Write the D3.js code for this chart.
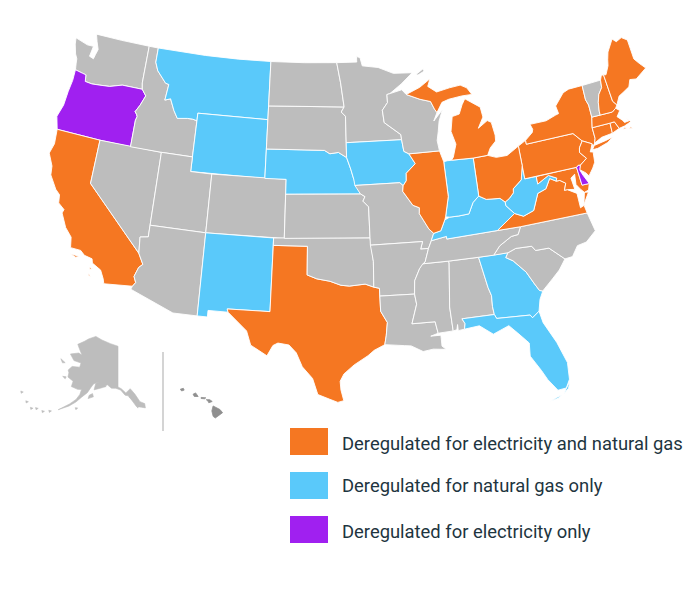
<![CDATA[<!DOCTYPE html>
<html><head><meta charset="utf-8">
<script src="https://cdn.jsdelivr.net/npm/d3@7"></script>
<style>html,body{margin:0;padding:0;background:#fff}svg{display:block}</style>
</head><body><svg id="c" width="700" height="601"></svg>
<script>
// Legend categories and which states belong to each
const legendLabels = ["Deregulated for electricity and natural gas","Deregulated for natural gas only","Deregulated for electricity only"];
const categoryColors = ["#F57722","#5AC9FA","#A020F0"];
const bothStates = ["TX","CA","IL","MI","OH","PA","NY","NJ","MD","VA","ME","NH","MA","CT","RI"];
const gasStates = ["MT","WY","NE","IA","NM","IN","KY","WV","GA","FL"];
const electricStates = ["OR","DE"];

// State outlines, [longitude, latitude]
const WA=[[[-124.73,48.38],[-123.4,48.12],[-122.75,48.13],[-122.9,47.4],[-122.45,47.3],[-122.35,47.6],[-122.2,48],[-122.5,48.5],[-122.75,49],[-120,49],[-117.03,49],[-117.04,46.43],[-116.92,46],[-118.98,46],[-119.3,45.93],[-120.2,45.72],[-121.2,45.65],[-122,45.6],[-122.7,45.65],[-122.8,46.1],[-123.2,46.15],[-123.95,46.25],[-124.05,46.7],[-124.1,47],[-124.35,47.3],[-124.65,47.95]]];
const OR=[[[-123.95,46.25],[-123.2,46.15],[-122.8,46.1],[-122.7,45.65],[-122,45.6],[-121.2,45.65],[-120.2,45.72],[-119.3,45.93],[-118.98,46],[-116.92,46],[-116.46,45.6],[-116.85,44.9],[-117.22,44.4],[-117.03,44.25],[-116.93,44.1],[-117.03,43.83],[-117.03,42],[-120,42],[-124.2,42],[-124.55,42.85],[-124.2,43.7],[-124.1,44.7],[-123.95,45.5]]];
const CA=[[[-124.2,42],[-120,42],[-120,39],[-114.63,35],[-114.14,34.3],[-114.45,34.05],[-114.72,33.4],[-114.5,33],[-114.72,32.72],[-117.12,32.53],[-117.25,32.85],[-117.6,33.4],[-118.4,33.75],[-118.5,34.03],[-119.2,34.15],[-119.6,34.42],[-120.5,34.45],[-120.65,35.15],[-121.3,35.7],[-121.9,36.6],[-121.8,36.85],[-122.4,37.2],[-122.5,37.75],[-122.95,38.05],[-123.7,38.9],[-123.8,39.5],[-124.35,40.3],[-124.1,41]],[[-120.4,34.05],[-119.6,34],[-119.9,33.9]],[[-118.6,33.45],[-118.3,33.35],[-118.5,33.3]],[[-118.6,33.05],[-118.35,32.85],[-118.5,32.85]]];
const NV=[[[-120,42],[-114.04,42],[-114.04,36.2],[-114.75,36.1],[-114.63,35],[-120,39]]];
const ID=[[[-117.03,49],[-116.05,49],[-116.05,48],[-115.7,47.45],[-114.7,46.7],[-114.35,46.65],[-114.5,45.55],[-113.95,45.7],[-113.45,44.95],[-113,44.45],[-112,44.55],[-111.5,44.55],[-111.05,44.48],[-111.05,42],[-114.04,42],[-117.03,42],[-117.03,43.83],[-116.93,44.1],[-117.03,44.25],[-117.22,44.4],[-116.85,44.9],[-116.46,45.6],[-116.92,46],[-117.04,46.43]]];
const MT=[[[-116.05,49],[-111,49],[-107.5,49],[-104.05,49],[-104.05,45],[-111.05,45],[-111.05,44.48],[-111.5,44.55],[-112,44.55],[-113,44.45],[-113.45,44.95],[-113.95,45.7],[-114.5,45.55],[-114.35,46.65],[-114.7,46.7],[-115.7,47.45],[-116.05,48]]];
const WY=[[[-111.05,45],[-104.05,45],[-104.05,41],[-111.05,41]]];
const UT=[[[-114.04,42],[-111.05,42],[-111.05,41],[-109.05,41],[-109.05,37],[-114.04,37]]];
const CO=[[[-109.05,41],[-102.05,41],[-102.05,37],[-109.05,37]]];
const AZ=[[[-114.75,36.1],[-114.04,36.2],[-114.04,37],[-109.05,37],[-109.05,31.33],[-111.07,31.33],[-114.82,32.5],[-114.72,32.72],[-114.5,33],[-114.72,33.4],[-114.45,34.05],[-114.14,34.3],[-114.63,35]]];
const NM=[[[-109.05,37],[-103,37],[-103.05,32],[-106.62,32],[-106.53,31.78],[-108.2,31.78],[-108.2,31.33],[-109.05,31.33]]];
const TX=[[[-103,36.5],[-100,36.5],[-100,34.56],[-99.2,34.3],[-98.1,34.13],[-97.2,33.85],[-96.5,33.78],[-95.2,33.88],[-94.5,33.65],[-94.04,33.55],[-94.04,33.02],[-94.04,31.99],[-93.55,31.2],[-93.7,30.3],[-93.85,29.7],[-94.7,29.35],[-95.2,29],[-96.3,28.4],[-97.1,27.8],[-97.4,27.3],[-97.35,26.7],[-97.15,25.96],[-97.6,25.85],[-98.2,26.07],[-99.1,26.4],[-99.5,27.5],[-100.3,28.3],[-100.8,29.25],[-101.4,29.77],[-102.3,29.88],[-102.7,29.7],[-103.15,28.98],[-104.5,29.65],[-104.9,30.6],[-106.53,31.78],[-106.62,32],[-103.05,32]]];
const OK=[[[-103,37],[-94.62,37],[-94.43,35.4],[-94.5,33.65],[-95.2,33.88],[-96.5,33.78],[-97.2,33.85],[-98.1,34.13],[-99.2,34.3],[-100,34.56],[-100,36.5],[-103,36.5]]];
const KS=[[[-102.05,40],[-95.3,40],[-94.9,39.8],[-95.1,39.5],[-94.62,39.1],[-94.62,37],[-102.05,37]]];
const NE=[[[-104.05,43],[-98.5,43],[-98,42.77],[-97.2,42.85],[-96.45,42.49],[-96.1,41.7],[-95.85,41],[-95.3,40],[-102.05,40],[-102.05,41],[-104.05,41]]];
const SD=[[[-104.05,45.94],[-96.56,45.94],[-96.85,45.6],[-96.45,45.3],[-96.45,43.5],[-96.45,42.49],[-97.2,42.85],[-98,42.77],[-98.5,43],[-104.05,43]]];
const ND=[[[-104.05,49],[-100.5,49],[-97.2,49],[-96.85,47.6],[-96.56,45.94],[-104.05,45.94]]];
const MN=[[[-97.2,49],[-95.15,49],[-95.15,49.38],[-94.8,49.3],[-94.6,48.72],[-93,48.55],[-91.5,48.07],[-89.6,48],[-90.8,47.3],[-92,46.7],[-92.3,46.65],[-92.3,46.1],[-92.85,45.6],[-92.75,44.75],[-91.25,43.85],[-91.22,43.5],[-96.45,43.5],[-96.45,45.3],[-96.85,45.6],[-96.56,45.94],[-96.85,47.6]],[[-89.25,47.85],[-88.45,48.2],[-88.4,48.02],[-89.05,47.8]]];
const IA=[[[-96.45,43.5],[-91.22,43.5],[-91.1,42.7],[-90.65,42.5],[-90.15,41.8],[-91.05,41.2],[-91.1,40.7],[-91.42,40.38],[-91.7,40.6],[-95.77,40.58],[-95.85,41],[-96.1,41.7],[-96.45,42.49]]];
const MO=[[[-95.77,40.58],[-91.7,40.6],[-91.42,40.38],[-91.5,40],[-90.7,39],[-90.15,38.8],[-90.2,38.4],[-89.5,37.3],[-89.13,36.98],[-89.4,36.5],[-89.7,36],[-90.37,36],[-90.15,36.5],[-94.62,36.5],[-94.62,37],[-94.62,39.1],[-95.1,39.5],[-94.9,39.8],[-95.3,40]]];
const AR=[[[-94.62,36.5],[-90.15,36.5],[-90.37,36],[-89.7,36],[-90.1,35.1],[-90.6,34.7],[-91.1,33.9],[-91.2,33],[-94.04,33.02],[-94.04,33.55],[-94.5,33.65],[-94.43,35.4]]];
const LA=[[[-94.04,33.02],[-91.2,33],[-91.1,32.3],[-91.6,31],[-89.75,31],[-89.6,30.2],[-90.2,30.05],[-89.4,30.05],[-89.4,29.8],[-89.4,29.3],[-89.1,29.05],[-90.1,29.15],[-90.9,29.05],[-91.8,29.5],[-92.3,29.55],[-93.85,29.7],[-93.7,30.3],[-93.55,31.2],[-94.04,31.99]]];
const MS=[[[-90.3,35],[-88.2,35],[-88.1,34.9],[-88.47,31.9],[-88.4,30.25],[-89.6,30.2],[-89.75,31],[-91.6,31],[-91.1,32.3],[-91.2,33],[-91.1,33.9],[-90.6,34.7]]];
const AL=[[[-88.2,35],[-85.6,35],[-85.18,32.87],[-85,32.3],[-85.05,31.55],[-85,31],[-87.6,31],[-87.4,30.65],[-87.5,30.28],[-88,30.23],[-88,30.65],[-88.1,30.3],[-88.4,30.25],[-88.47,31.9],[-88.1,34.9]]];
const GA=[[[-85.6,35],[-83.1,35],[-83.35,34.7],[-82.8,34.4],[-81.9,33.5],[-81.4,32.6],[-81.1,32.1],[-80.85,32.03],[-81.2,31.5],[-81.45,30.72],[-82.05,30.36],[-82.2,30.57],[-84.86,30.71],[-85,31],[-85.05,31.55],[-85,32.3],[-85.18,32.87]]];
const FL=[[[-87.6,31],[-85,31],[-84.86,30.71],[-82.2,30.57],[-82.05,30.36],[-81.45,30.72],[-81.3,29.9],[-80.55,28.4],[-80.05,26.9],[-80.15,25.75],[-80.5,25.2],[-81.15,25.15],[-81.75,26],[-82.1,26.7],[-82.75,27.8],[-82.65,28.7],[-83.4,29.5],[-84,30.1],[-85.3,29.68],[-86.3,30.38],[-87.5,30.28],[-87.4,30.65]],[[-80.15,25.6],[-80.35,25.15],[-80.75,24.85],[-80.45,25.25]],[[-80.95,24.8],[-81.85,24.5],[-81.25,24.6]]];
const SC=[[[-83.35,34.7],[-83.1,35],[-82.4,35.2],[-81.05,35.15],[-80.8,34.82],[-79.67,34.8],[-78.55,33.86],[-79.2,33.2],[-79.9,32.7],[-80.85,32.03],[-81.1,32.1],[-81.4,32.6],[-81.9,33.5],[-82.8,34.4]]];
const NC=[[[-84.32,34.99],[-83.1,35],[-82.4,35.2],[-81.05,35.15],[-80.8,34.82],[-79.67,34.8],[-78.55,33.86],[-77.9,33.9],[-77.3,34.55],[-76.5,34.65],[-75.55,35.25],[-75.85,36.55],[-81.68,36.59],[-82,36.1],[-82.6,36.05],[-83.7,35.55]]];
const TN=[[[-90.1,35.1],[-90.3,35],[-88.2,35],[-85.6,35],[-84.32,34.99],[-83.7,35.55],[-82.6,36.05],[-82,36.1],[-81.68,36.59],[-83.68,36.6],[-88.07,36.5],[-88.07,36.68],[-89.4,36.5],[-89.7,36]]];
const KY=[[[-89.4,36.5],[-88.07,36.68],[-88.07,36.5],[-83.68,36.6],[-81.97,37.54],[-82.6,38.17],[-82.6,38.42],[-83,38.72],[-84.2,38.8],[-84.82,39.1],[-85.4,38.73],[-85.9,38],[-86.8,37.95],[-87.6,37.95],[-88.05,37.8],[-88.5,37.1],[-89.13,36.98]]];
const VA=[[[-83.68,36.6],[-81.68,36.59],[-75.85,36.55],[-75.95,37.1],[-76.3,37],[-76.3,37.6],[-76.3,38],[-77.05,38.4],[-77.3,38.4],[-77.05,38.85],[-77.5,39.12],[-77.83,39.13],[-78.35,39.4],[-78.87,38.77],[-79.65,38.58],[-80.3,37.5],[-81.25,37.25],[-81.97,37.54]],[[-75.95,37.15],[-75.3,37.9],[-75.65,37.95]]];
const WV=[[[-81.97,37.54],[-81.25,37.25],[-80.3,37.5],[-79.65,38.58],[-78.87,38.77],[-78.35,39.4],[-77.83,39.13],[-77.72,39.32],[-78.4,39.62],[-79.48,39.2],[-79.48,39.72],[-80.52,39.72],[-80.52,40.64],[-80.85,39.7],[-81.7,39.2],[-81.75,38.93],[-82.2,38.6],[-82.6,38.42],[-82.6,38.17]]];
const MD=[[[-79.48,39.72],[-75.79,39.72],[-75.7,38.46],[-75.05,38.45],[-75.25,38.03],[-75.65,37.95],[-75.9,38.2],[-76.2,38.6],[-76.1,39.3],[-76.5,39.1],[-76.4,38.3],[-77.05,38.4],[-77.3,38.4],[-77.05,38.85],[-77.5,39.12],[-77.83,39.13],[-77.72,39.32],[-78.4,39.62],[-79.48,39.2]]];
const DE=[[[-75.79,39.72],[-75.6,39.83],[-75.4,39.8],[-75.55,39.45],[-75.4,39.1],[-75.05,38.45],[-75.7,38.46]]];
const PA=[[[-80.52,41.98],[-79.76,42.27],[-79.76,42],[-75.35,42],[-74.7,41.36],[-75.1,40.95],[-75.2,40.65],[-74.72,40.15],[-75.4,39.8],[-75.6,39.83],[-75.79,39.72],[-80.52,39.72]]];
const NY=[[[-79.76,42.27],[-79,42.7],[-78.9,42.9],[-79.05,43.27],[-77.5,43.27],[-76.5,43.5],[-76.2,43.55],[-76.3,44.1],[-75.3,44.85],[-74.7,45],[-73.35,45],[-73.4,44],[-73.25,43.6],[-73.27,42.75],[-73.5,42.05],[-73.5,41.3],[-73.65,41],[-73.9,40.8],[-73.9,41],[-74.7,41.36],[-75.35,42],[-79.76,42]],[[-74,40.6],[-73.75,40.85],[-72.6,40.97],[-71.9,41.07],[-72.5,40.8],[-73.5,40.6]]];
const NJ=[[[-74.7,41.36],[-73.9,41],[-74.1,40.7],[-74.25,40.5],[-74,40.45],[-74.1,39.75],[-74.4,39.4],[-74.9,38.95],[-75.1,39.2],[-75.55,39.5],[-75.4,39.8],[-74.72,40.15],[-75.2,40.65],[-75.1,40.95]]];
const CT=[[[-73.5,42.05],[-71.8,42.02],[-71.85,41.32],[-72.9,41.25],[-73.65,41],[-73.5,41.3]]];
const RI=[[[-71.8,42.02],[-71.38,42.02],[-71.12,41.5],[-71.85,41.32]]];
const MA=[[[-73.5,42.05],[-73.27,42.75],[-71.3,42.7],[-70.9,42.88],[-70.6,42.65],[-71,42.3],[-70.6,41.95],[-70.5,41.78],[-70.05,41.8],[-70.2,42.07],[-69.95,41.7],[-70.6,41.55],[-71.12,41.5],[-71.38,42.02],[-71.8,42.02]],[[-70.8,41.36],[-70.45,41.35],[-70.6,41.47]],[[-70.25,41.3],[-69.97,41.23],[-70.05,41.38]]];
const VT=[[[-73.35,45],[-71.5,45.01],[-71.6,44.5],[-72.05,44.1],[-72.3,43.6],[-72.45,43],[-72.46,42.73],[-73.27,42.75],[-73.25,43.6],[-73.4,44]]];
const NH=[[[-71.5,45.01],[-71.3,45.3],[-71.08,45.3],[-70.98,43.4],[-70.7,43.07],[-70.9,42.88],[-71.3,42.7],[-72.46,42.73],[-72.45,43],[-72.3,43.6],[-72.05,44.1],[-71.6,44.5]]];
const ME=[[[-71.08,45.3],[-70.85,45.25],[-70.4,45.8],[-70.25,46.2],[-70,46.7],[-69.22,47.46],[-68.9,47.2],[-68.3,47.36],[-67.8,47.07],[-67.8,45.7],[-67.45,45.3],[-67,44.85],[-68.2,44.35],[-68.8,44.45],[-69.1,44],[-69.8,43.75],[-70.25,43.6],[-70.7,43.07],[-70.98,43.4]]];
const OH=[[[-84.8,41.7],[-83.45,41.73],[-82.7,41.5],[-81.7,41.5],[-80.52,41.98],[-80.52,40.64],[-80.85,39.7],[-81.7,39.2],[-81.75,38.93],[-82.2,38.6],[-82.6,38.42],[-83,38.72],[-84.2,38.8],[-84.82,39.1]]];
const IN=[[[-87.53,41.72],[-87.2,41.76],[-86.8,41.76],[-84.8,41.7],[-84.82,39.1],[-85.4,38.73],[-85.9,38],[-86.8,37.95],[-87.6,37.95],[-87.95,38],[-87.5,39.35]]];
const IL=[[[-87.8,42.49],[-90.65,42.5],[-90.15,41.8],[-91.05,41.2],[-91.1,40.7],[-91.42,40.38],[-91.5,40],[-90.7,39],[-90.15,38.8],[-90.2,38.4],[-89.5,37.3],[-89.13,36.98],[-88.5,37.1],[-88.05,37.8],[-87.95,38],[-87.5,39.35],[-87.53,41.72]]];
const WI=[[[-90.65,42.5],[-87.8,42.49],[-87.9,43.2],[-87.7,43.8],[-87.5,44.5],[-87.05,45.25],[-88,44.55],[-87.6,45.1],[-87.8,45.35],[-88.1,45.9],[-89.1,46.13],[-90.4,46.55],[-90.8,46.9],[-92,46.7],[-92.3,46.65],[-92.3,46.1],[-92.85,45.6],[-92.75,44.75],[-91.25,43.85],[-91.22,43.5],[-91.1,42.7]]];
const MI=[[[-86.8,41.76],[-84.8,41.7],[-83.45,41.73],[-83.1,42.2],[-82.5,42.6],[-82.45,43],[-82.6,43.9],[-82.95,44.07],[-83.9,43.65],[-83.3,44.35],[-83.4,45.05],[-84.75,45.78],[-85.1,45.4],[-85.5,44.8],[-86.2,44.7],[-86.5,43.7],[-86.2,42.8],[-86.6,41.95]],[[-90.4,46.55],[-89.1,46.13],[-88.1,45.9],[-87.8,45.35],[-87.6,45.1],[-87,45.75],[-86.3,45.9],[-85,46],[-84,46],[-84.4,46.5],[-85,46.75],[-86.1,46.67],[-87.4,46.5],[-88.2,46.95],[-87.9,47.45],[-89,46.95]]];
const lower48 = {WA,OR,CA,NV,ID,MT,WY,UT,CO,AZ,NM,TX,OK,KS,NE,SD,ND,MN,IA,MO,AR,LA,MS,AL,GA,FL,SC,NC,TN,KY,VA,WV,MD,DE,PA,NY,NJ,CT,RI,MA,VT,NH,ME,OH,IN,IL,WI,MI};

const AK=[[[-141,69.65],[-141,60.3],[-139.5,59.9],[-137.5,58.9],[-135.4,59.8],[-133.5,58.4],[-131.8,56.6],[-130,56],[-130,55],[-131.5,55.3],[-133.5,55.6],[-135,57],[-136.5,58.2],[-137.9,58.4],[-139.8,59.6],[-142,60],[-144,60],[-146,60.7],[-148,60],[-149.5,59.7],[-151.8,59.2],[-151.5,60.7],[-150,61.2],[-152.5,60.5],[-153.5,59.5],[-154.5,58.3],[-156.5,57],[-158.3,55.6],[-160.5,54.3],[-164,52.7],[-160.5,54.8],[-158.5,56.2],[-157.5,57.5],[-157.3,58.7],[-159,58.5],[-162,58.7],[-162,60],[-164.9,60.5],[-165.2,61.5],[-166,62],[-164.8,63.1],[-161,63.5],[-161,64.5],[-165,64.5],[-168.1,65.6],[-164,66.5],[-161.8,66.3],[-163.8,67.2],[-166.3,68.3],[-163,69.5],[-161,70.3],[-156.6,71.35],[-152,70.8],[-146,70.2]],
[[-153.7,57],[-151.6,57.6],[-152.2,58.3],[-153.5,57.8]],[[-167.3,60.2],[-165.7,60.4],[-165.8,59.9]],[[-171.7,63.7],[-168.8,63.3],[-170,63]],
[[-179.8,52.7],[-178.8,52.8],[-179.2,52.3]],[[-176.3,51.4],[-175.3,51.5],[-175.8,51]],[[-173.7,50.6],[-172.7,50.7],[-173.2,50.2]],[[-172,51.1],[-171,51.2],[-171.5,50.7]],[[-169.5,51.1],[-168.5,51.2],[-169,50.7]],[[-167.2,51.8],[-166.2,51.9],[-166.7,51.4]],[[-158,54.3],[-157,54.4],[-157.5,53.9]],
[[-134.8,57.8],[-133.9,57.9],[-134.2,56.9]],[[-133.8,56.3],[-132.2,56.4],[-133,55.2]],[[-136.3,58],[-135,58.3],[-135,57.2]],[[-148,60.8],[-146.5,60.3],[-147.6,60.1]]];
const HI=[[[-155.9,20.25],[-155.1,19.85],[-154.8,19.5],[-155.65,18.92],[-155.9,19.1],[-156.05,19.7]],[[-156.7,20.95],[-156.3,20.95],[-156,20.75],[-156.4,20.6],[-156.5,20.8]],[[-158.25,21.55],[-157.95,21.7],[-157.65,21.3],[-158.1,21.3]],[[-159.75,22.1],[-159.4,22.2],[-159.3,22],[-159.6,21.9]],[[-157.3,21.2],[-156.75,21.15],[-156.9,21.05],[-157.3,21.08]]];

const svg = d3.select("#c");
const status = new Map();
bothStates.forEach(s=>status.set(s,0));
gasStates.forEach(s=>status.set(s,1));
electricStates.forEach(s=>status.set(s,2));
const GRAY="#BDBDBD";

const projection = d3.geoAlbers().rotate([99,0]).scale(815).translate([310,222]);
const xFit = d3.scaleLinear().domain([48,300,632]).range([50,302,645]);
const yFit = d3.scaleLinear().domain([53,403]).range([40,400]);
const mainland = p => { const [x,y] = projection(p); return [xFit(x), yFit(y)]; };
const akProjection = d3.geoConicEqualArea().rotate([141,0]).center([0,60.3]).parallels([55,65]).scale(250).translate([118,387]);
const hiProjection = d3.geoConicEqualArea().rotate([157,0]).center([-3,19.9]).parallels([8,18]).scale(520).translate([178,409]);

const pathFor = proj => rings => rings.map(r => d3.line()(r.map(p=>proj(p))) + "Z").join("");
const lowerPath = pathFor(mainland);

svg.append("g").selectAll("path").data(Object.entries(lower48)).join("path")
  .attr("d",d=>lowerPath(d[1]))
  .attr("fill",d=>status.has(d[0])?categoryColors[status.get(d[0])]:GRAY)
  .attr("stroke","#fff")
  .attr("stroke-width",0.9)
  .attr("stroke-linejoin","round");

svg.append("path").attr("d",pathFor(akProjection)(AK)).attr("fill",GRAY).attr("stroke",GRAY).attr("stroke-width",0.6);
svg.append("path").attr("d",pathFor(hiProjection)(HI)).attr("fill","#8f8f8f").attr("stroke","#8f8f8f").attr("stroke-width",0.8);
svg.append("path").attr("d",d3.line()([[163,352],[163,431]])).attr("stroke","#a9a9a9").attr("stroke-width",1).attr("fill","none");

const legendY = d3.scalePoint().domain(legendLabels).range([428,516]);
const lg = svg.append("g").selectAll("g").data(legendLabels).join("g");
lg.append("rect").attr("x",290).attr("y",d=>legendY(d)).attr("width",38).attr("height",27)
  .attr("fill",(d,i)=>categoryColors[i]);
lg.append("text").attr("x",342).attr("y",(d,i)=>legendY(d)+(i===1?20:22)).text(d=>d)
  .attr("font-family","Roboto").attr("font-size",18.4).attr("fill","#1E3540");
</script></body></html>]]>
